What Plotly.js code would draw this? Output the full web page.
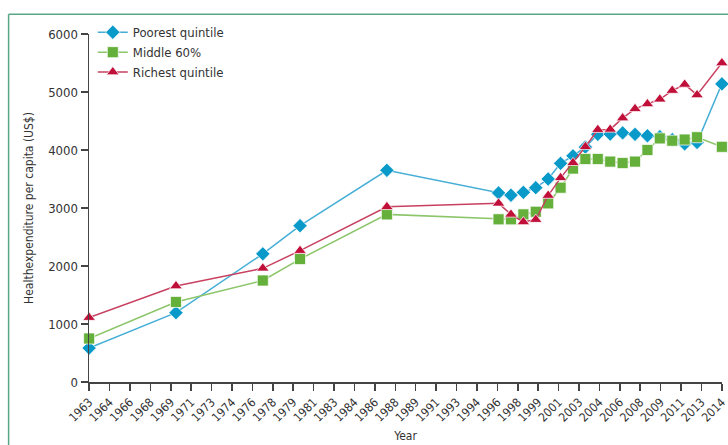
<!DOCTYPE html>
<html>
<head>
<meta charset="utf-8">
<script src="https://cdn.plot.ly/plotly-3.0.1.min.js"></script>
<style>
html,body{margin:0;padding:0;background:#fff;}
#chart{width:728px;height:445px;}
</style>
</head>
<body>
<div id="chart"></div>
<script>
// Data
var years = [1963, 1970, 1977, 1980, 1987, 1996, 1997, 1998, 1999, 2000, 2001, 2002, 2003, 2004, 2005, 2006, 2007, 2008, 2009, 2010, 2011, 2012, 2014];
var poorest = [585, 1195, 2210, 2695, 3650, 3260, 3220, 3270, 3350, 3500, 3770, 3900, 4050, 4270, 4275, 4295, 4270, 4245, 4230, 4180, 4105, 4130, 5140];
var middle = [750, 1380, 1750, 2120, 2890, 2805, 2805, 2890, 2935, 3080, 3350, 3680, 3845, 3845, 3800, 3775, 3800, 4000, 4200, 4160, 4180, 4220, 4055];
var richest = [1110, 1655, 1960, 2265, 3020, 3080, 2890, 2760, 2800, 3215, 3520, 3780, 4055, 4350, 4355, 4550, 4710, 4795, 4875, 5025, 5130, 4950, 5500];
var seriesNames = ["Poorest quintile", "Middle 60%", "Richest quintile"];
var xTickLabels = ["1963","1964","1966","1968","1969","1971","1973","1974","1976","1978","1979","1981","1983","1984","1986","1988","1989","1991","1993","1994","1996","1998","1999","2001","2003","2004","2006","2008","2009","2011","2013","2014"];
var yTickVals = [0, 1000, 2000, 3000, 4000, 5000, 6000];

var xStart = 1963, xEnd = 2014;
var n = xTickLabels.length - 1;
var tickVals = xTickLabels.map(function(_, i){
  return Math.round((xStart + i * (xEnd - xStart) / n) * 1e6) / 1e6;
});

var fontFam = "'DejaVu Sans Condensed', 'Liberation Sans Narrow', 'Open Sans', sans-serif";

var traces = [
  {x: years, y: poorest, name: seriesNames[0], type: 'scatter', mode: 'lines+markers',
   line: {color: '#45aed6', width: 1.5},
   marker: {symbol: 'diamond', size: 11, color: '#0a9ac9', line: {color: 'rgba(255,255,255,0.7)', width: 1}},
   cliponaxis: false},
  {x: years, y: middle, name: seriesNames[1], type: 'scatter', mode: 'lines+markers',
   line: {color: '#8cc56a', width: 1.5},
   marker: {symbol: 'square', size: 11, color: '#64b03a', line: {color: 'rgba(255,255,255,0.7)', width: 1}},
   cliponaxis: false},
  {x: years, y: richest, name: seriesNames[2], type: 'scatter', mode: 'lines+markers',
   line: {color: '#c8405f', width: 1.5},
   marker: {symbol: 'triangle-up', size: 11, color: '#c0103a', line: {color: 'rgba(255,255,255,0.7)', width: 1}},
   cliponaxis: false}
];

var layout = {
  width: 728, height: 445,
  margin: {l: 89, r: 6, t: 34, b: 63},
  paper_bgcolor: '#fff', plot_bgcolor: '#fff',
  font: {family: fontFam, size: 12, color: '#333'},
  showlegend: true,
  legend: {x: 0.006, y: 1.048, xanchor: 'left', yanchor: 'top', bgcolor: 'rgba(0,0,0,0)',
           font: {family: fontFam, size: 13, color: '#333'}, tracegroupgap: 0},
  xaxis: {
    range: [xStart - 0.01, xEnd + 0.01], tickmode: 'array', tickvals: tickVals, ticktext: xTickLabels,
    tickangle: -45, ticks: 'outside', ticklen: 7, tickwidth: 1.5, tickcolor: '#444',
    ticklabeloverflow: 'allow',
    showline: true, linecolor: '#444', linewidth: 1.5, showgrid: false, zeroline: false,
    tickfont: {family: fontFam, size: 12, color: '#333'},
    title: {text: 'Year', font: {family: fontFam, size: 12, color: '#333'}, standoff: 8}
  },
  yaxis: {
    range: [0, 6000], tickmode: 'array', tickvals: yTickVals,
    ticks: 'outside', ticklen: 7, tickwidth: 1.5, tickcolor: '#444',
    showline: true, linecolor: '#444', linewidth: 1.5, showgrid: false, zeroline: false,
    tickfont: {family: fontFam, size: 13, color: '#333'},
    title: {text: 'Healthexpenditure per capita (US$)', font: {family: fontFam, size: 12, color: '#333'}, standoff: 12}
  },
  shapes: [
    {type: 'line', xref: 'paper', yref: 'paper', x0: -0.127, x1: -0.127, y0: 1.057, y1: -0.25,
     line: {color: '#5aa986', width: 1.5}},
    {type: 'line', xref: 'paper', yref: 'paper', x0: -0.127, x1: 1.05, y0: 1.057, y1: 1.057,
     line: {color: '#5aa986', width: 1.5}}
  ]
};

Plotly.newPlot('chart', traces, layout, {displayModeBar: false, staticPlot: true});
</script>
</body>
</html>
